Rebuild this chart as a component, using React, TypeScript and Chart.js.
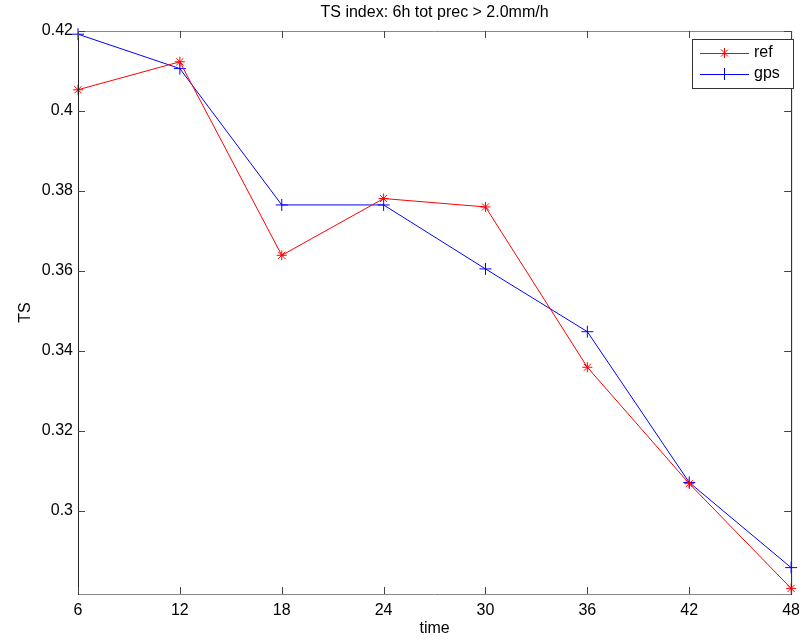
import React, { useEffect, useRef } from "react";
import { Chart, registerables } from "chart.js";

Chart.register(...registerables);

const timeSteps = [6, 12, 18, 24, 30, 36, 42, 48];
const refValues = [0.4053, 0.4123, 0.3639, 0.3781, 0.376, 0.3359, 0.3068, 0.2806];
const gpsValues = [0.4192, 0.4106, 0.3765, 0.3765, 0.3605, 0.3448, 0.3071, 0.2858];
const yTickValues = [0.3, 0.32, 0.34, 0.36, 0.38, 0.4, 0.42];
const xTickValues = [6, 12, 18, 24, 30, 36, 42, 48];
const titleText = "TS index: 6h tot prec > 2.0mm/h";
const xLabel = "time";
const yLabel = "TS";
const seriesNames = ["ref", "gps"];

const FONT = "Arial, 'Liberation Sans', Helvetica, sans-serif";

const framePlugin = {
  id: "matlabFrame",
  afterDraw(chart: any) {
    const { ctx, chartArea } = chart;
    const { left, right, top, bottom } = chartArea;
    const xs = chart.scales.x;
    const ys = chart.scales.y;
    ctx.save();
    // frame
    ctx.lineWidth = 1;
    ctx.strokeStyle = "#888888";
    ctx.beginPath();
    ctx.moveTo(left, top + 0.5);
    ctx.lineTo(right, top + 0.5);
    ctx.moveTo(left, bottom + 0.5);
    ctx.lineTo(right, bottom + 0.5);
    ctx.stroke();
    ctx.strokeStyle = "#222222";
    ctx.beginPath();
    ctx.moveTo(left + 0.5, top);
    ctx.lineTo(left + 0.5, bottom + 1);
    ctx.moveTo(right + 0.5, top);
    ctx.lineTo(right + 0.5, bottom + 1);
    ctx.stroke();
    // ticks
    ctx.strokeStyle = "#444444";
    ctx.beginPath();
    xTickValues.forEach((v) => {
      const px = Math.round(xs.getPixelForValue(v)) + 0.5;
      ctx.moveTo(px, bottom);
      ctx.lineTo(px, bottom - 7);
      ctx.moveTo(px, top);
      ctx.lineTo(px, top + 7);
    });
    yTickValues.forEach((v) => {
      const py = Math.round(ys.getPixelForValue(v)) + 0.5;
      ctx.moveTo(left, py);
      ctx.lineTo(left + 7, py);
      ctx.moveTo(right, py);
      ctx.lineTo(right - 7, py);
    });
    ctx.stroke();
    // title and axis labels
    ctx.fillStyle = "#000000";
    ctx.font = `16px ${FONT}`;
    ctx.textAlign = "center";
    ctx.textBaseline = "middle";
    ctx.fillText(titleText, (left + right) / 2, 13);
    ctx.fillText(xLabel, (left + right) / 2, 629);
    ctx.save();
    ctx.translate(26, (top + bottom) / 2);
    ctx.rotate(-Math.PI / 2);
    ctx.fillText(yLabel, 0, 0);
    ctx.restore();
    // legend
    const lx = 692, ly = 39, lw = 101, lh = 49;
    ctx.fillStyle = "#ffffff";
    ctx.fillRect(lx, ly, lw, lh);
    ctx.strokeStyle = "#333333";
    ctx.strokeRect(lx + 0.5, ly + 0.5, lw, lh);
    const colors = ["#ff0000", "#0000ff"];
    const styles = ["star", "cross"];
    seriesNames.forEach((name, i) => {
      const yy = ly + 14 + i * 21;
      ctx.strokeStyle = colors[i];
      ctx.lineWidth = 1;
      ctx.beginPath();
      ctx.moveTo(700, yy + 0.5);
      ctx.lineTo(749, yy + 0.5);
      ctx.stroke();
      ctx.beginPath();
      if (styles[i] === "star") {
        const r = 5;
        ctx.moveTo(724.5, yy - r);
        ctx.lineTo(724.5, yy + r);
        ctx.moveTo(724.5 - r, yy + 0.5);
        ctx.lineTo(724.5 + r, yy + 0.5);
        const d = r * 0.7;
        ctx.moveTo(724.5 - d, yy - d);
        ctx.lineTo(724.5 + d, yy + d);
        ctx.moveTo(724.5 - d, yy + d);
        ctx.lineTo(724.5 + d, yy - d);
      } else {
        const r = 6;
        ctx.moveTo(724.5, yy - r);
        ctx.lineTo(724.5, yy + r);
        ctx.moveTo(724.5 - r, yy + 0.5);
        ctx.lineTo(724.5 + r, yy + 0.5);
      }
      ctx.stroke();
      ctx.fillStyle = "#000000";
      ctx.font = `16px ${FONT}`;
      ctx.textAlign = "left";
      ctx.textBaseline = "middle";
      ctx.fillText(name, 754, yy);
    });
    ctx.restore();
  },
};

export default function App() {
  const canvasRef = useRef<HTMLCanvasElement>(null);

  useEffect(() => {
    if (!canvasRef.current) return;
    const chart = new Chart(canvasRef.current, {
      type: "line",
      data: {
        datasets: [
          {
            label: seriesNames[0],
            data: timeSteps.map((t, i) => ({ x: t, y: refValues[i] })),
            borderColor: "#ff0000",
            backgroundColor: "#ff0000",
            borderWidth: 1,
            pointStyle: "star",
            pointRadius: 5,
            pointBorderWidth: 1,
            pointBorderColor: "#ff0000",
            tension: 0,
            clip: false as any,
          },
          {
            label: seriesNames[1],
            data: timeSteps.map((t, i) => ({ x: t, y: gpsValues[i] })),
            borderColor: "#0000ff",
            backgroundColor: "#0000ff",
            borderWidth: 1,
            pointStyle: "cross",
            pointRadius: 6,
            pointBorderWidth: 1,
            pointBorderColor: "#0000ff",
            tension: 0,
            clip: false as any,
          },
        ],
      },
      options: {
        animation: false,
        responsive: false,
        events: [],
        layout: { padding: { left: 0, top: 31, right: 13, bottom: 0 } },
        plugins: {
          legend: { display: false },
          title: { display: false },
          tooltip: { enabled: false },
        },
        scales: {
          x: {
            type: "linear",
            min: 6,
            max: 48,
            grid: { display: false, drawTicks: false },
            border: { display: false },
            afterBuildTicks: (scale: any) => {
              scale.ticks = xTickValues.map((v) => ({ value: v }));
            },
            afterFit: (scale: any) => {
              scale.height = 47;
            },
            ticks: {
              color: "#000000",
              font: { family: FONT, size: 16 },
              padding: 7,
              maxRotation: 0,
              autoSkip: false,
              callback: (v: any) => String(v),
            },
          },
          y: {
            type: "linear",
            min: 0.2792,
            max: 0.42,
            grid: { display: false, drawTicks: false },
            border: { display: false },
            afterBuildTicks: (scale: any) => {
              scale.ticks = yTickValues.map((v) => ({ value: v }));
            },
            afterFit: (scale: any) => {
              scale.width = 78;
            },
            ticks: {
              color: "#000000",
              font: { family: FONT, size: 16 },
              padding: 5,
              autoSkip: false,
              callback: (v: any) => String(Number(Number(v).toFixed(2))),
            },
          },
        },
      },
      plugins: [framePlugin],
    });
    return () => chart.destroy();
  }, []);

  return (
    <div style={{ position: "absolute", left: 0, top: 0, width: 807, height: 641, background: "#ffffff" }}>
      <canvas ref={canvasRef} width={807} height={641} />
    </div>
  );
}
